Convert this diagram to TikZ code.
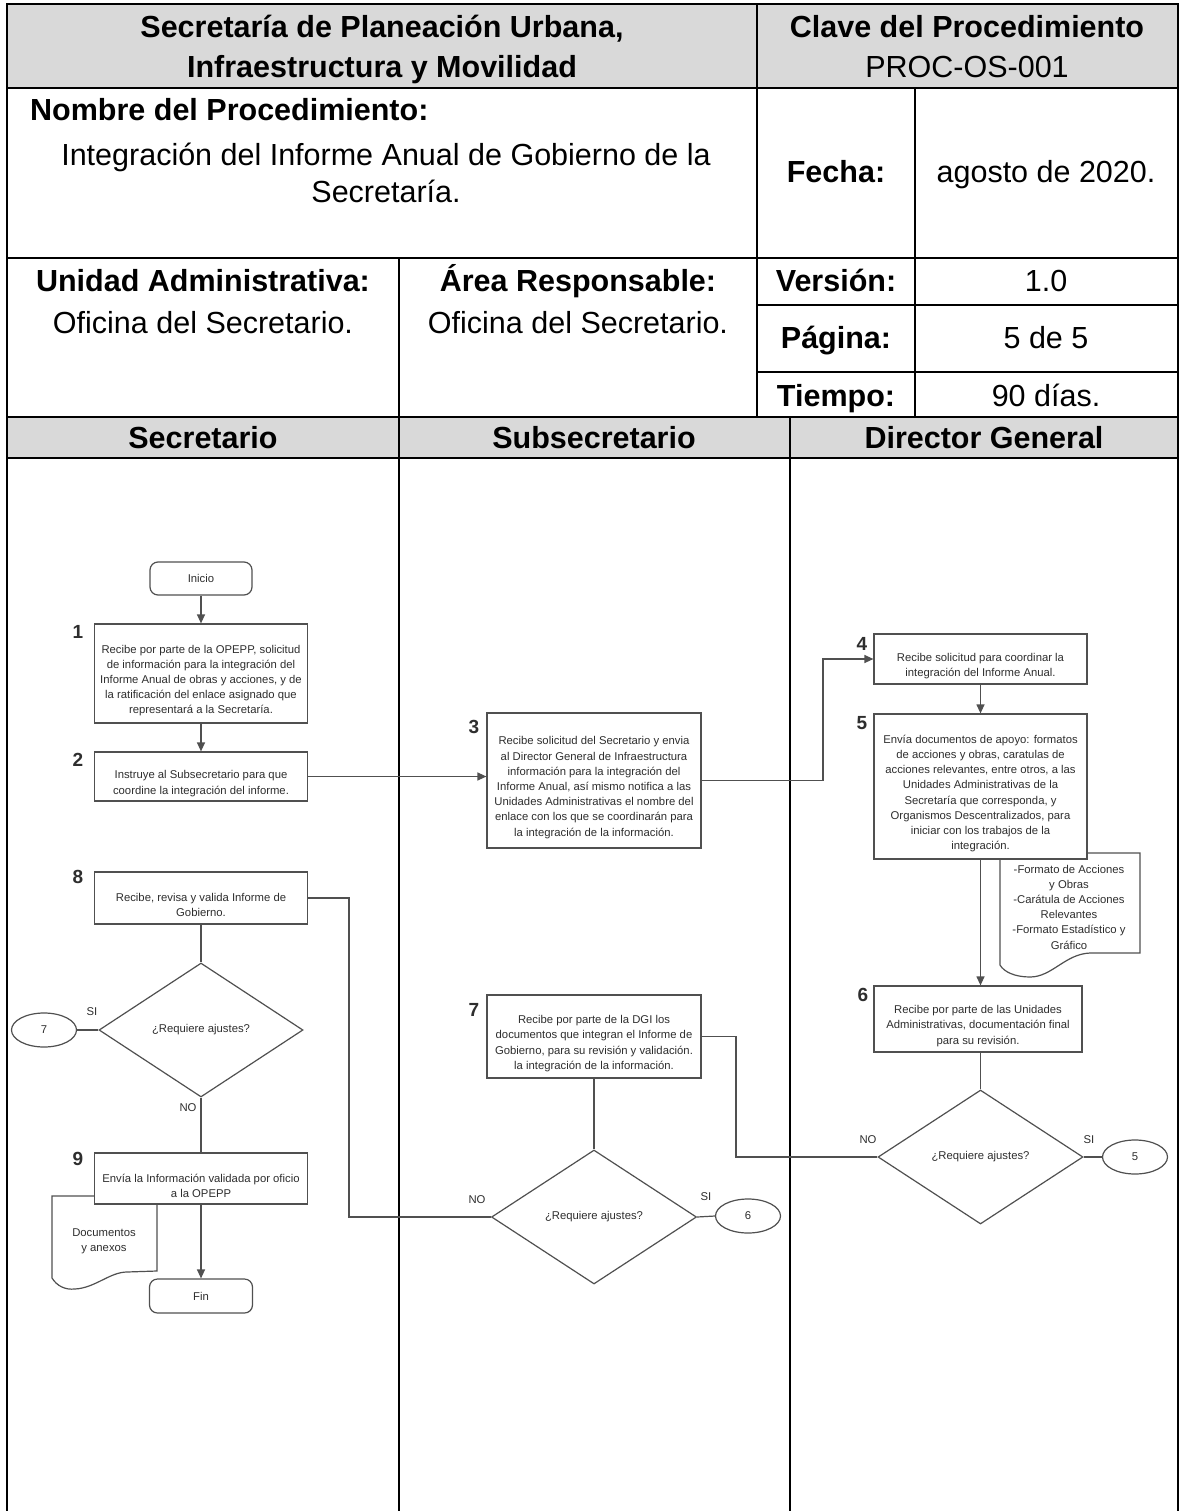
\documentclass[tikz,border=0pt]{standalone}
\usepackage{fontspec}
\setmainfont{Liberation Sans}
\usetikzlibrary{arrows.meta,shapes.geometric,calc}
\definecolor{hdr}{HTML}{D9D9D9}
\definecolor{fl}{HTML}{505050}
\definecolor{ft}{HTML}{2E2E2E}
\begin{document}
\begin{tikzpicture}[x=1pt,y=-1pt,
  frame/.style={line width=2.4pt,black},
  hb/.style={font=\fontsize{30.5}{39}\selectfont\bfseries, inner sep=0, anchor=base},
  hr/.style={font=\fontsize{30.5}{39}\selectfont, inner sep=0, anchor=base},
  box/.style={draw=fl, line width=1.2pt, fill=white, rectangle, inner sep=0},
  txt/.style={font=\fontsize{11.3}{15.2}\selectfont, text=ft, align=center, inner sep=0},
  num/.style={font=\fontsize{19}{19}\selectfont\bfseries, text=ft, inner sep=0},
  lbl/.style={font=\fontsize{11.3}{14}\selectfont, text=ft, inner sep=0},
  con/.style={draw=fl, line width=1.2pt},
  arr/.style={con, -{Triangle[length=9pt,width=8pt]}},
  term/.style={box, rounded corners=8pt},
  dec/.style={draw=fl, line width=1.2pt, fill=white, diamond, inner sep=0},
  conn/.style={draw=fl, line width=1.2pt, fill=white, ellipse, inner sep=0, minimum width=65pt, minimum height=34pt, font=\fontsize{11.3}{14}\selectfont, text=ft},
  docsh/.style={draw=fl, line width=1.2pt, fill=white},
]
\useasboundingbox (0,0) rectangle (1181,1511);
\fill[white] (0,0) rectangle (1181,1511);
% ---------- header table ----------
\fill[hdr] (7,4) rectangle (1178,88);
\fill[hdr] (7,417) rectangle (1178,458);
\draw[frame] (7,1511) -- (7,4) -- (1178,4) -- (1178,1511);
\draw[frame] (7,88) -- (1178,88);
\draw[frame] (7,258) -- (1178,258);
\draw[frame] (757,305) -- (1178,305);
\draw[frame] (757,372) -- (1178,372);
\draw[frame] (7,417) -- (1178,417);
\draw[frame] (7,458) -- (1178,458);
\draw[frame] (757,4) -- (757,417);
\draw[frame] (915,88) -- (915,417);
\draw[frame] (399,258) -- (399,1511);
\draw[frame] (790,417) -- (790,1511);

\node[hb] (h1a) at (382,38) {Secretaría de Planeación Urbana,};
\node[hb] (h1b) at (382,78) {Infraestructura y Movilidad};
\node[hb] (h1c) at (967,38) {Clave del Procedimiento};
\node[hr] (h1d) at (967,78) {PROC-OS-001};
\node[hb, anchor=base west] (h2a) at (30,121) {Nombre del Procedimiento:};
\node[hr] (h2b) at (386,166) {Integración del Informe Anual de Gobierno de la};
\node[hr] (h2c) at (386,203) {Secretaría.};
\node[hb] (h2d) at (836,183) {Fecha:};
\node[hr] (h2e) at (1046,183) {agosto de 2020.};
\node[hb] (h3a) at (203,292) {Unidad Administrativa:};
\node[hr] (h3b) at (203,333) {Oficina del Secretario.};
\node[hb] (h3c) at (578,292) {Área Responsable:};
\node[hr] (h3d) at (578,333) {Oficina del Secretario.};
\node[hb] (h3e) at (836,292) {Versión:};
\node[hr] (h3f) at (1046,292) {1.0};
\node[hb] (h3g) at (836,348) {Página:};
\node[hr] (h3h) at (1046,348) {5 de 5};
\node[hb] (h3i) at (836,406) {Tiempo:};
\node[hr] (h3j) at (1046,406) {90 días.};
\node[hb] (l1) at (203,448) {Secretario};
\node[hb] (l2) at (594,448) {Subsecretario};
\node[hb] (l3) at (984,448) {Director General};

% ---------- document shapes (behind boxes) ----------
\draw[docsh] (1000,853) -- (1140,853) -- (1140,953) -- (1090,953) .. controls (1065,954) and (1052,977) .. (1030,977) .. controls (1015,977) and (1004,972) .. (1000,965) -- cycle;
\node[txt] (dt5) at (1069,907) {-Formato de Acciones\\y Obras\\-Carátula de Acciones\\Relevantes\\-Formato Estadístico y\\Gráfico};
\draw[docsh] (52,1196) -- (157,1196) -- (157,1271) -- (127,1272) .. controls (110,1272) and (95,1288) .. (75,1289) .. controls (65,1290) and (57,1286) .. (52,1278) -- cycle;
\node[txt] (dt9) at (104,1241) {Documentos\\y anexos};

% ---------- lane 1 ----------
\node[term, minimum width=102pt, minimum height=33pt] (ini) at (201,578.5) {};
\node[txt] (tini) at (ini.center) {Inicio};
\node[box, minimum width=213pt, minimum height=99pt] (b1) at (201,673.5) {};
\node[txt] (t1) at ([yshift=-7pt]b1.center) {Recibe por parte de la OPEPP, solicitud\\de información para la integración del\\Informe Anual de obras y acciones, y de\\la ratificación del enlace asignado que\\representará a la Secretaría.};
\node[box, minimum width=213pt, minimum height=49pt] (b2) at (201,776.5) {};
\node[txt] (t2) at ([yshift=-7pt]b2.center) {Instruye al Subsecretario para que\\coordine la integración del informe.};
\node[box, minimum width=213pt, minimum height=52pt] (b8) at (201,898) {};
\node[txt] (t8) at ([yshift=-7pt]b8.center) {Recibe, revisa y valida Informe de\\Gobierno.};
\node[dec, minimum width=204pt, minimum height=134pt] (d8) at (201,1030) {};
\node[txt] (td8) at (d8.center) {¿Requiere ajustes?};
\node[conn] (e7) at (44,1030) {7};
\node[box, minimum width=213pt, minimum height=51pt] (b9) at (201,1178.5) {};
\node[txt] (t9) at ([yshift=-7pt]b9.center) {Envía la Información validada por oficio\\a la OPEPP};
\node[term, minimum width=103pt, minimum height=34pt] (fin) at (201,1296) {};
\node[txt] (tfin) at (fin.center) {Fin};

% ---------- lane 2 ----------
\node[box, minimum width=214pt, minimum height=135pt] (b3) at (594,780.5) {};
\node[txt] (t3) at ([yshift=-7pt]b3.center) {Recibe solicitud del Secretario y envia\\al Director General de Infraestructura\\información para la integración del\\Informe Anual, así mismo notifica a las\\Unidades Administrativas el nombre del\\enlace con los que se coordinarán para\\la integración de la información.};
\node[box, minimum width=214pt, minimum height=83pt] (b7) at (594,1036.5) {};
\node[txt] (t7) at ([yshift=-7pt]b7.center) {Recibe por parte de la DGI los\\documentos que integran el Informe de\\Gobierno, para su revisión y validación.\\la integración de la información.};
\node[dec, minimum width=205pt, minimum height=134pt] (d7) at (594,1217) {};
\node[txt] (td7) at (d7.center) {¿Requiere ajustes?};
\node[conn] (e6) at (748,1216) {6};

% ---------- lane 3 ----------
\node[box, minimum width=213pt, minimum height=50pt] (b4) at (980.5,659) {};
\node[txt] (t4) at ([yshift=-7pt]b4.center) {Recibe solicitud para coordinar la\\integración del Informe Anual.};
\node[box, minimum width=213pt, minimum height=145pt] (b5) at (980.5,786.5) {};
\node[txt] (t5) at ([yshift=-7pt]b5.center) {Envía documentos de apoyo: formatos\\de acciones y obras, caratulas de\\acciones relevantes, entre otros, a las\\Unidades Administrativas de la\\Secretaría que corresponda, y\\Organismos Descentralizados, para\\iniciar con los trabajos de la\\integración.};
\node[box, minimum width=208pt, minimum height=66pt] (b6) at (978,1019) {};
\node[txt] (t6) at ([yshift=-7pt]b6.center) {Recibe por parte de las Unidades\\Administrativas, documentación final\\para su revisión.};
\node[dec, minimum width=205pt, minimum height=134pt] (d6) at (980.5,1157) {};
\node[txt] (td6) at (d6.center) {¿Requiere ajustes?};
\node[conn] (e5) at (1135,1157) {5};

% ---------- step numbers ----------
\node[num] (n1) at (78,632) {1};
\node[num] (n2) at (78,760) {2};
\node[num] (n3) at (474,727) {3};
\node[num] (n4) at (862,644) {4};
\node[num] (n5) at (862,723) {5};
\node[num] (n6) at (863,995) {6};
\node[num] (n7) at (474,1010) {7};
\node[num] (n8) at (78,877) {8};
\node[num] (n9) at (78,1159) {9};

% ---------- labels ----------
\node[lbl] (s8) at (92,1012) {SI};
\node[lbl] (o8) at (188,1108) {NO};
\node[lbl] (o7) at (477,1200) {NO};
\node[lbl] (s7) at (706,1197) {SI};
\node[lbl] (o6) at (868,1140) {NO};
\node[lbl] (s6) at (1089,1140) {SI};

% ---------- connectors ----------
\coordinate (c34) at (823,0);
\coordinate (c76) at (736,0);
\coordinate (c87) at (349,0);
\draw[arr] (ini.south) -- (ini.south |- b1.north);
\draw[arr] (b1.south) -- (b1.south |- b2.north);
\draw[arr] (b2.east) -- (b2.east -| b3.west);
\draw[arr] (b3.east) -| (c34 |- b4.west) -- (b4.west);
\draw[arr] (b4.south) -- (b4.south |- b5.north);
\draw[arr] (b5.south) -- (b5.south |- b6.north);
\draw[con] (d6.north |- b6.south) -- (d6.north);
\draw[con] (d6.east) -- (e5.west);
\draw[con] (d6.west) -| (c76 |- b7.east) -- (b7.east);
\draw[con] (b7.south) -- (d7.north);
\draw[con] (d7.east) -- (e6.west);
\draw[con] (d7.west) -| (c87 |- b8.east) -- (b8.east);
\draw[con] (b8.south) -- (d8.north);
\draw[con] (d8.west) -- (e7.east);
\draw[con] (d8.south) -- (b9.north);
\draw[arr] (b9.south) -- (fin.north);
\end{tikzpicture}
\end{document}
